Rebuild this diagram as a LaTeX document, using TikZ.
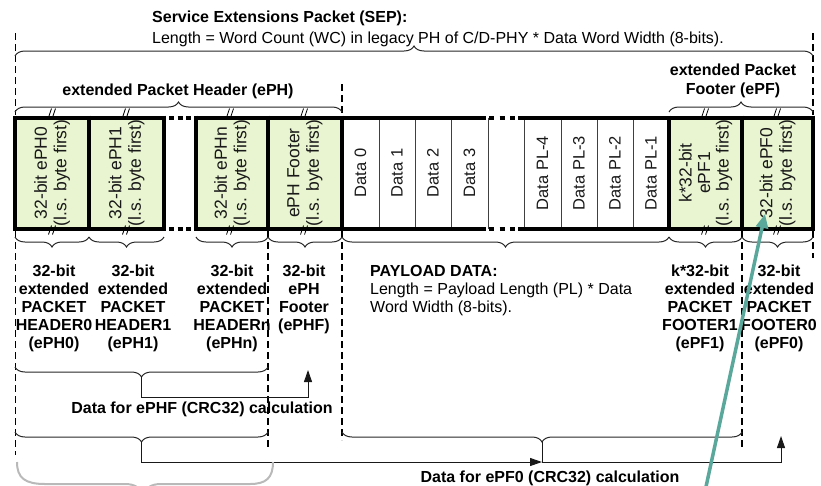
\documentclass[tikz,border=0pt]{standalone}
\usepackage{fontspec}
\setmainfont{Liberation Sans}
\usetikzlibrary{decorations.pathreplacing,arrows.meta}
\definecolor{cellgreen}{RGB}{232,245,208}
\definecolor{tealarrow}{RGB}{90,168,156}
\newcommand{\tstack}[1]{\begin{tabular}[t]{@{}c@{}}#1\end{tabular}}
\newcommand{\tstackl}[1]{\begin{tabular}[t]{@{}l@{}}#1\end{tabular}}
\begin{document}
\begin{tikzpicture}[x=1pt,y=-1pt,
  border/.style={line width=4pt, black},
  divider/.style={line width=0.9pt, black!75},
  gapline/.style={line width=4pt, black},
  vdash/.style={line width=2pt, dash pattern=on 7pt off 4pt},
  vdashthin/.style={line width=0.9pt, dash pattern=on 7pt off 4pt},
  curly/.style={decorate, decoration={brace, amplitude=10pt}, line width=1pt, black!85},
  conn/.style={line width=1pt, black!90},
  tipped/.style={-{Triangle[length=12pt,width=8pt]}},
  lbl/.style={font=\fontsize{16}{18}\selectfont\bfseries, inner sep=0pt},
  txt/.style={font=\fontsize{16}{18}\selectfont, inner sep=0pt},
  celltxt/.style={font=\fontsize{17.5}{19.5}\selectfont, rotate=90, align=center, inner sep=0pt, text=black!90},
  datatxt/.style={font=\fontsize{16.5}{19}\selectfont, rotate=90, align=center, inner sep=0pt, text=black!90},
  brkmark/.pic={\draw[line width=0.8pt] (-3.5,4.5) -- (-0.5,-4.5) (0.5,4.5) -- (3.5,-4.5);}
]
\useasboundingbox (0,0) rectangle (821,485);

% ---- cell fills
\fill[cellgreen] (15,117.5) rectangle (164,228.5);
\fill[cellgreen] (196,117.5) rectangle (342,228.5);
\fill[cellgreen] (669,117.5) rectangle (813,228.5);

% ---- thin dividers in payload
\foreach \x in {379,415,451,488,524,561,597,633}
  \draw[divider] (\x,117.5) -- (\x,228.5);

% ---- thick frame
\foreach \y in {117.5,228.5}{
  \draw[border] (13,\y) -- (166,\y) (194,\y) -- (486,\y) (518,\y) -- (815,\y);
  \draw[gapline, dash pattern=on 5pt off 3.5pt] (169,\y) -- (191.5,\y);
  \draw[gapline, dash pattern=on 5pt off 5.5pt] (489,\y) -- (515.5,\y);
}
\foreach \x in {15,89,164,196,268,342,669,742,813}
  \draw[border] (\x,115.5) -- (\x,230.5);

% ---- break marks
\foreach \x in {52,126,230,304,705,777}{
  \pic at (\x,113) {brkmark};
  \pic at (\x,230) {brkmark};
}

% ---- cell texts
\node[celltxt] (c0) at (52,173) {32-bit ePH0\\(l.s. byte first)};
\node[celltxt] (c1) at (126.5,173) {32-bit ePH1\\(l.s. byte first)};
\node[celltxt] (cn) at (232,173) {32-bit ePHn\\(l.s. byte first)};
\node[celltxt] (cf) at (305,173) {ePH Footer\\(l.s. byte first)};
\node[datatxt] (d0) at (360.5,173) {Data 0};
\node[datatxt] (d1) at (397,173) {Data 1};
\node[datatxt] (d2) at (433,173) {Data 2};
\node[datatxt] (d3) at (469.5,173) {Data 3};
\node[datatxt] (d4) at (542.5,173) {Data PL-4};
\node[datatxt] (d5) at (579,173) {Data PL-3};
\node[datatxt] (d6) at (615,173) {Data PL-2};
\node[datatxt] (d7) at (651,173) {Data PL-1};
\node[celltxt, font=\fontsize{17.5}{18.5}\selectfont] (f1) at (705.5,173) {k*32-bit\\ePF1\\(l.s. byte first)};
\node[celltxt] (f0) at (777.5,173) {32-bit ePF0\\(l.s. byte first)};

% ---- dashed verticals
\draw[vdashthin] (15,33) -- (15,115) (15,231) -- (15,455);
\draw[vdash] (342,84) -- (342,115) (342,231) -- (342,440);
\draw[vdash] (268,231) -- (268,447);
\draw[vdash] (742,231) -- (742,450);
\draw[vdash] (813,33) -- (813,115) (813,231) -- (813,258);

% ---- top braces and labels
\draw[curly] (15,56) -- (813,56);
\draw[curly] (15,112) -- (342,112);
\draw[curly] (669,112) -- (813,112);
\node[txt, font=\fontsize{16}{21}\selectfont, anchor=base west] (title) at (152,22)
  {\tstackl{\textbf{Service Extensions Packet (SEP):}\\Length = Word Count (WC) in legacy PH of C/D-PHY * Data Word Width (8-bits).}};
\node[lbl, anchor=base] (ephl) at (178,95) {extended Packet Header (ePH)};
\node[lbl, font=\fontsize{16}{19}\selectfont\bfseries, anchor=base] (epfl) at (733,75) {\tstack{extended Packet\\Footer (ePF)}};

% ---- bottom braces
\draw[curly] (89,237) -- (15,237);
\draw[curly] (164,237) -- (89,237);
\draw[curly] (268,237) -- (196,237);
\draw[curly] (342,237) -- (268,237);
\draw[curly] (669,237) -- (342,237);
\draw[curly] (742,237) -- (669,237);
\draw[curly] (813,237) -- (742,237);

% ---- labels under cells
\node[lbl, anchor=base] (l0) at (54,276) {\tstack{32-bit\\extended\\PACKET\\HEADER0\\(ePH0)}};
\node[lbl, anchor=base] (l1) at (133,276) {\tstack{32-bit\\extended\\PACKET\\HEADER1\\(ePH1)}};
\node[lbl, anchor=base] (ln) at (232,276) {\tstack{32-bit\\extended\\PACKET\\HEADERn\\(ePHn)}};
\node[lbl, anchor=base] (lf) at (304,276) {\tstack{32-bit\\ePH\\Footer\\(ePHF)}};
\node[txt, anchor=base west] (lp) at (370,276) {\tstackl{\textbf{PAYLOAD DATA:}\\Length = Payload Length (PL) * Data\\Word Width (8-bits).}};
\node[lbl, anchor=base] (lf1) at (700,276) {\tstack{k*32-bit\\extended\\PACKET\\FOOTER1\\(ePF1)}};
\node[lbl, anchor=base] (lf0) at (779,276) {\tstack{32-bit\\extended\\PACKET\\FOOTER0\\(ePF0)}};

% ---- CRC braces and connectors
\draw[curly] (268,367) -- (15,367);
\draw[curly] (268,432) -- (15,432);
\draw[curly] (742,432) -- (342,432);
\coordinate (t1) at (141.5,377);
\coordinate (a1) at (308,370);
\coordinate (t2) at (141.5,442);
\coordinate (t3) at (542,442);
\coordinate (j) at (542,462);
\coordinate (a2) at (781,436);
\draw[conn, tipped] (t1) -- ++(0,20) -| (a1);
\draw[conn, tipped] (t2) |- (j);
\draw[conn, tipped] (t3) -- (j) -| (a2);
\node[lbl, anchor=base] (crc1) at (202,413) {Data for ePHF (CRC32) calculation};
\node[lbl, anchor=base] (crc2) at (550,482) {Data for ePF0 (CRC32) calculation};

% ---- overlay annotations
\draw[gray!55, line width=2pt] (17,462) .. controls (17,478) and (25,484) .. (45,484) -- (125,484)
  .. controls (135,484) and (141,488) .. (143,496)
  .. controls (145,488) and (151,484) .. (161,484) -- (250,484)
  .. controls (266,484) and (273,478) .. (273,462);
\coordinate (ts) at (704,496);
\coordinate (te) at (765,214);
\draw[tealarrow, line width=3.5pt, -{Triangle[length=14pt,width=12pt]}] (ts) -- (te);
\end{tikzpicture}
\end{document}
